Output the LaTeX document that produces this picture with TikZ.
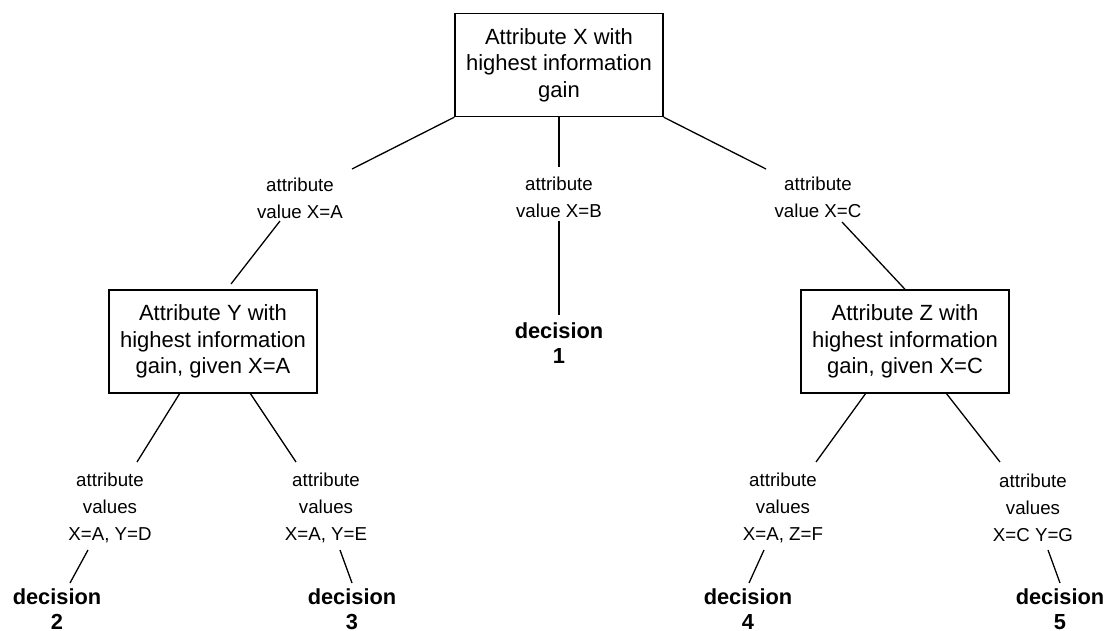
\documentclass[tikz,border=0pt]{standalone}
\usepackage{fontspec}
\setmainfont{Liberation Sans}
\begin{document}
\begin{tikzpicture}[x=1pt,y=-1pt,
  box/.style={draw,line width=1.4pt,minimum width=208pt,minimum height=103pt,inner sep=0pt,align=center,font=\fontsize{22}{26.5}\selectfont},
  lab/.style={inner sep=0pt,align=center,font=\fontsize{18.7}{27}\selectfont},
  dec/.style={inner sep=0pt,align=center,font=\fontsize{21.8}{25}\selectfont\bfseries},
  edge/.style={line width=1.3pt}]
\useasboundingbox (0,0) rectangle (1106,631);
% boxes
\node[box] (top) at (559,65) {Attribute X with\\highest information\\gain};
\node[box] (boxY) at (213,341.5) {Attribute Y with\\highest information\\gain, given X=A};
\node[box] (boxZ) at (905,341.5) {Attribute Z with\\highest information\\gain, given X=C};
% first level labels
\node[lab] (lA) at (300,198) {attribute\\value X=A};
\node[lab] (lB) at (559,197.5) {attribute\\value X=B};
\node[lab] (lC) at (818,197.5) {attribute\\value X=C};
\node[dec] (d1) at (559,343.5) {decision\\1};
% second level labels
\node[lab] (lD) at (110,508) {attribute\\values\\X=A, Y=D};
\node[lab] (lE) at (326,508) {attribute\\values\\X=A, Y=E};
\node[lab] (lF) at (783,508) {attribute\\values\\X=A, Z=F};
\node[lab] (lG) at (1033,508) {attribute\\values\\X=C Y=G};
% decisions
\node[dec] (d2) at (57,609) {decision\\2};
\node[dec] (d3) at (352,609) {decision\\3};
\node[dec] (d4) at (748,609) {decision\\4};
\node[dec] (d5) at (1060,609) {decision\\5};
% connectors top level
\draw[edge] (top.south west) -- ([shift={(52,-29)}]lA.center);
\draw[edge] ([shift={(-20,23)}]lA.center) -- ([shift={(18,-57.5)}]boxY.center);
\draw[edge] (top.south) -- ([shift={(0,-30)}]lB.center);
\draw[edge] ([shift={(0,23.5)}]lB.center) -- ([shift={(0,-28.5)}]d1.center);
\draw[edge] (top.south east) -- ([shift={(-52,-28.5)}]lC.center);
\draw[edge] ([shift={(24,24.5)}]lC.center) -- (boxZ.north);
% connectors from Y and Z
\draw[edge] ([shift={(-33,51.5)}]boxY.center) -- ([shift={(27,-46)}]lD.center);
\draw[edge] ([shift={(37,51.5)}]boxY.center) -- ([shift={(-30,-46)}]lE.center);
\draw[edge] ([shift={(-39,51.5)}]boxZ.center) -- ([shift={(33,-46)}]lF.center);
\draw[edge] ([shift={(41,51.5)}]boxZ.center) -- ([shift={(-33,-46)}]lG.center);
% connectors to decisions
\draw[edge] ([shift={(-22,42)}]lD.center) -- ([shift={(13,-26)}]d2.center);
\draw[edge] ([shift={(14,42)}]lE.center) -- ([shift={(0,-26)}]d3.center);
\draw[edge] ([shift={(-19,42)}]lF.center) -- ([shift={(1,-26)}]d4.center);
\draw[edge] ([shift={(15,42)}]lG.center) -- ([shift={(0,-26)}]d5.center);
\end{tikzpicture}
\end{document}
